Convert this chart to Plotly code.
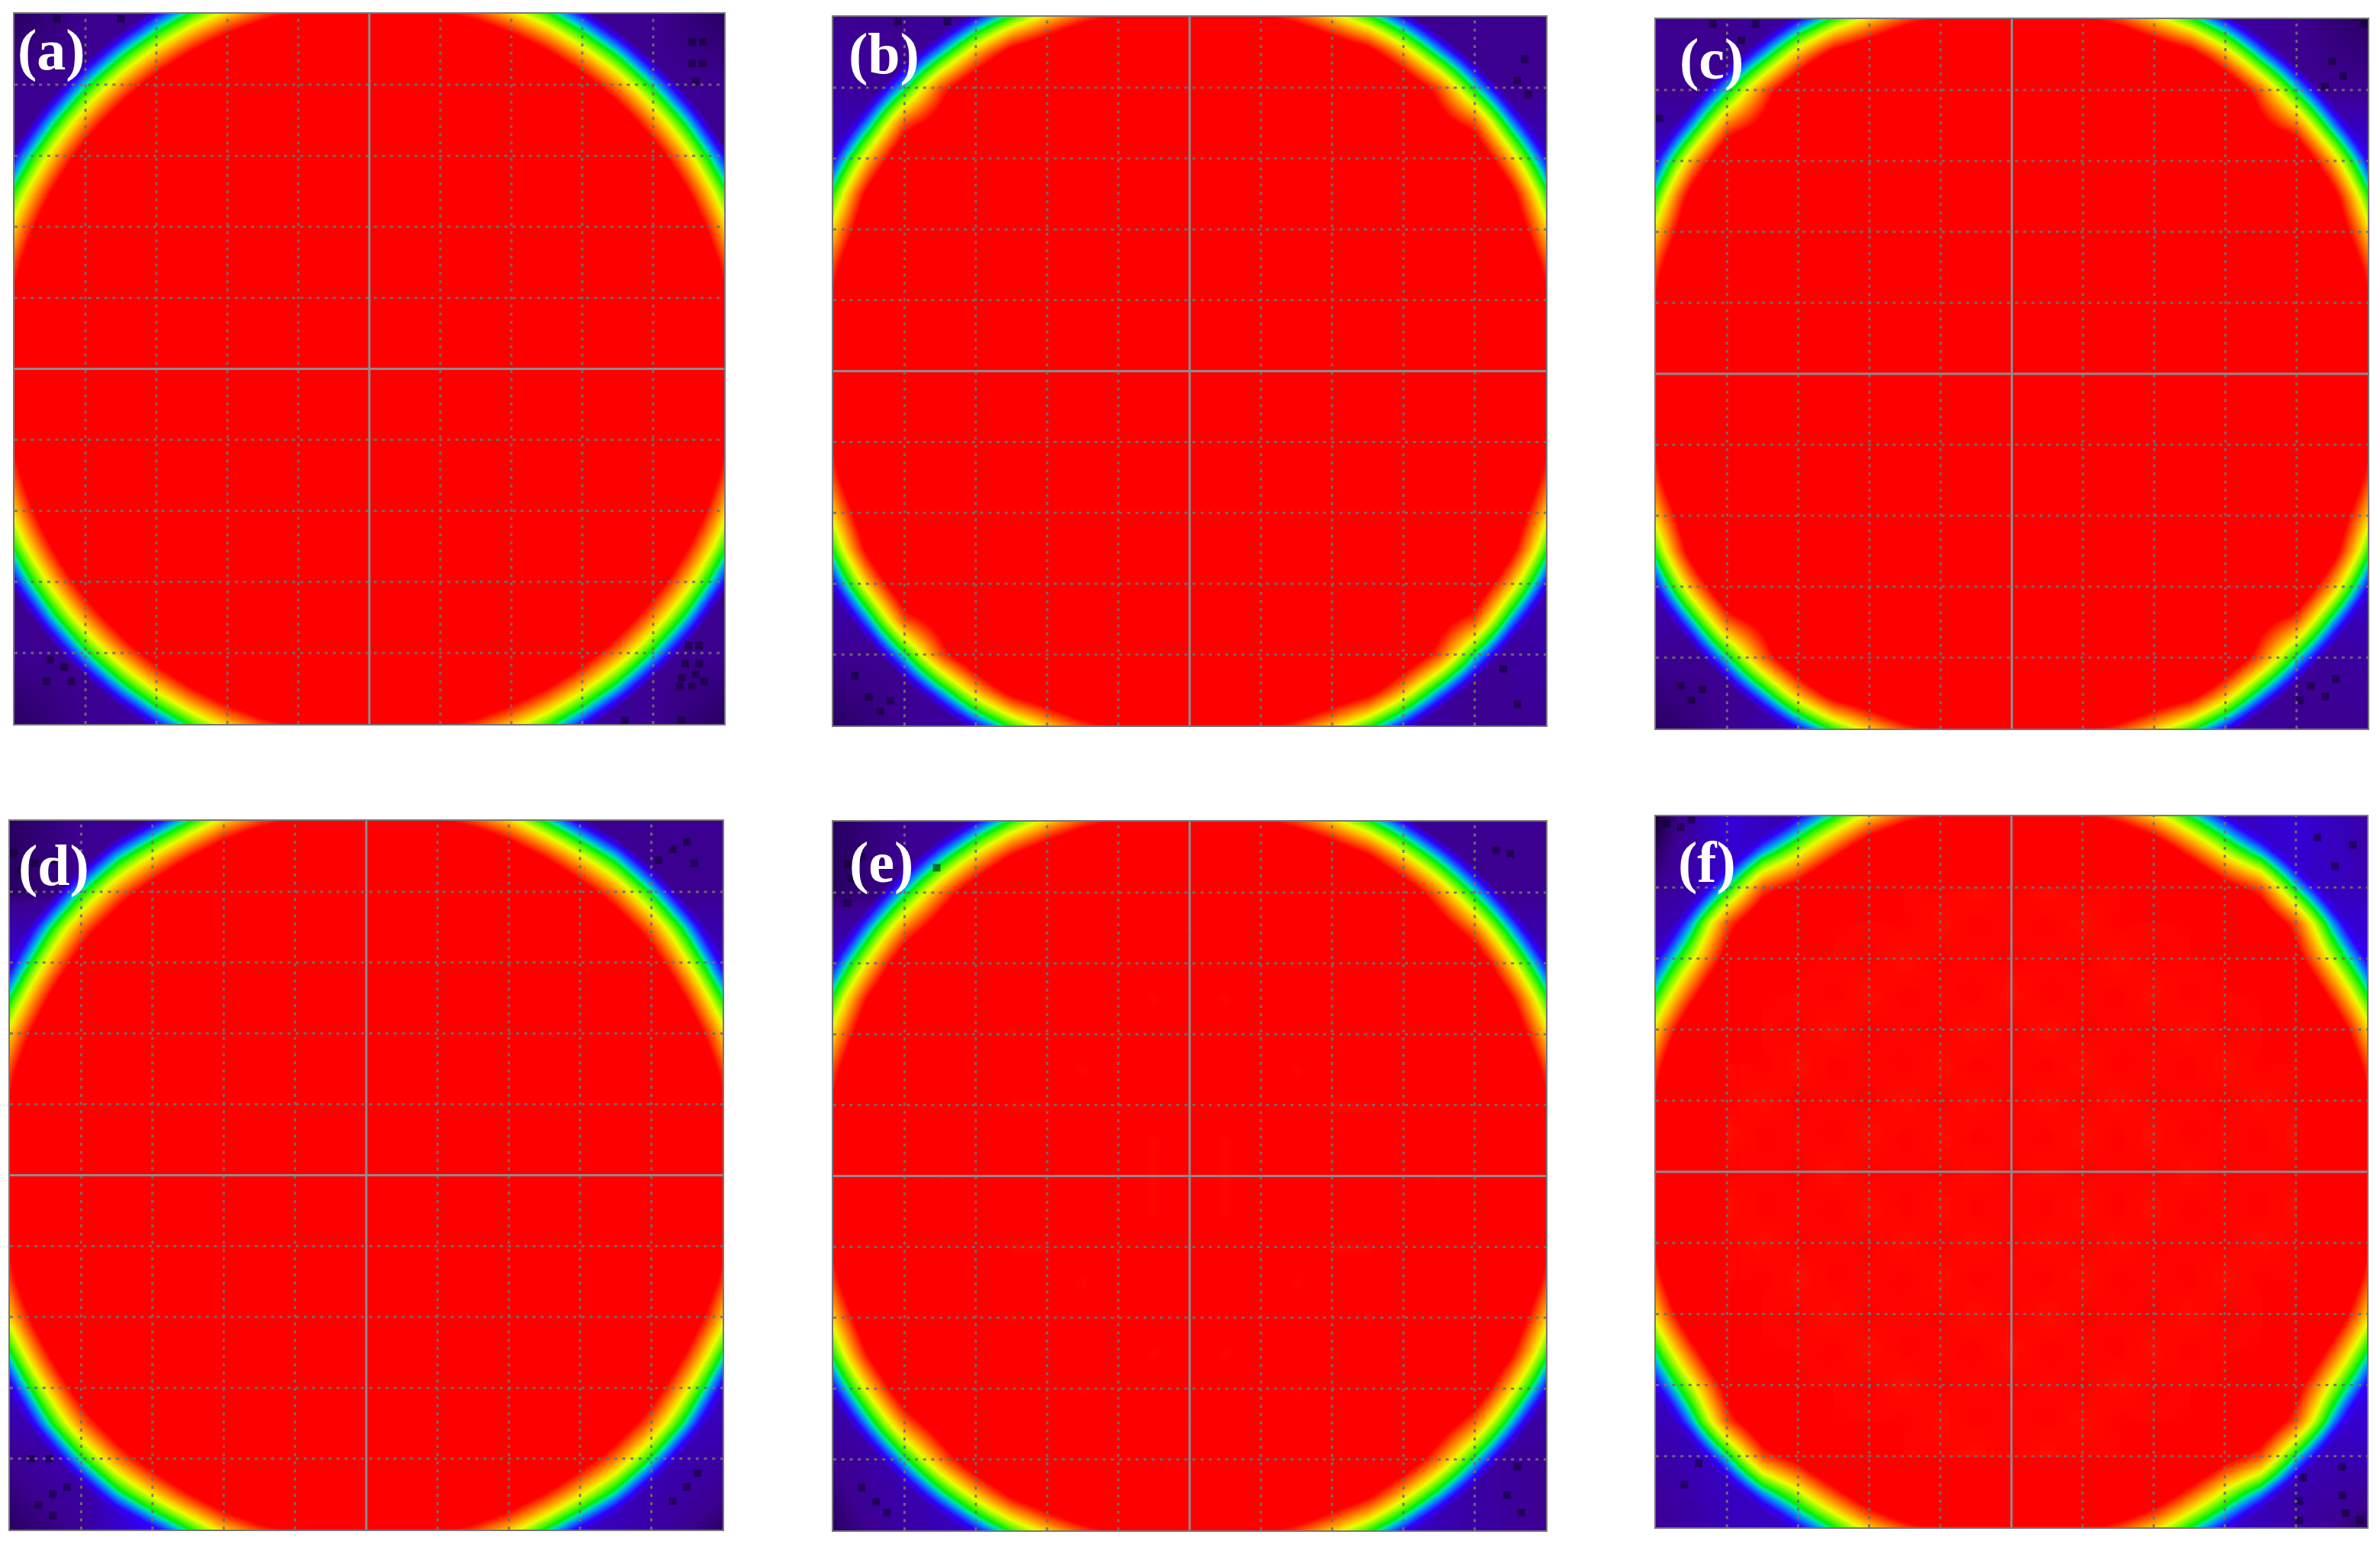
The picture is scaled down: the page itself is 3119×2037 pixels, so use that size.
import numpy as np
import plotly.graph_objects as go

W, H = 3119, 2037
panel_names = ["a", "b", "c", "d", "e", "f"]
panel_labels = ["(a)", "(b)", "(c)", "(d)", "(e)", "(f)"]
grid_ticks = [-4, -3, -2, -1, 1, 2, 3, 4]
centre_ticks = [0]
field_positions = [-5, -4.5, -4, -3.5, -3, -2.5, -2, -1.5, -1, -0.5, 0, 0.5, 1, 1.5, 2, 2.5, 3, 3.5, 4, 4.5, 5]
bg_positions = [-5, -4, -3, -2, -1, 0, 1, 2, 3, 4, 5]

# intensity, one quadrant, rows/cols from centre to panel edge
field_a = [
 [200,200,200,200,200,200,200,200,200,183,118],
 [200,200,200,200,200,200,200,200,200,179,115],
 [200,200,200,200,200,200,200,200,200,168,105],
 [200,200,200,200,200,200,200,200,200,151,90],
 [200,200,200,200,200,200,200,200,186,128,68],
 [200,200,200,200,200,200,200,200,155,99,42],
 [200,200,200,200,200,200,200,168,118,65,11],
 [200,200,200,200,200,200,168,124,77,28,-25],
 [200,200,200,200,186,155,118,77,33,-14,-64],
 [183,179,168,151,128,99,65,28,-14,-58,-90],
 [118,115,105,90,68,42,11,-25,-64,-90,-90]]
field_b = [
 [200,200,200,200,200,200,200,200,200,183,118],
 [200,200,200,200,200,200,200,200,200,179,115],
 [200,200,200,200,200,200,200,200,200,168,105],
 [200,200,200,200,200,200,200,200,200,151,90],
 [200,200,200,200,200,200,200,200,186,128,68],
 [200,200,200,200,200,200,200,200,165,110,42],
 [200,200,200,200,200,200,200,168,128,72,11],
 [200,200,200,200,200,200,168,112,88,28,-25],
 [200,200,200,200,186,165,128,88,34,-14,-64],
 [183,179,168,151,128,110,72,28,-14,-58,-90],
 [118,115,105,90,68,42,11,-25,-64,-90,-90]]
field_c = [
 [200,200,200,200,200,200,200,200,200,183,118],
 [200,200,200,200,200,200,200,200,200,179,115],
 [200,200,200,200,200,200,200,200,200,168,105],
 [200,200,200,200,200,200,200,200,200,151,90],
 [200,200,200,200,200,200,200,200,186,128,68],
 [200,200,200,200,200,200,200,200,168,112,42],
 [200,200,200,200,200,200,200,168,130,74,11],
 [200,200,200,200,200,200,168,108,84,28,-25],
 [200,200,200,200,186,168,130,84,33,-14,-64],
 [183,179,168,151,128,112,74,28,-14,-58,-90],
 [118,115,105,90,68,42,11,-25,-64,-90,-90]]
field_d = [
 [200,200,200,200,200,200,200,200,200,183,118],
 [200,200,200,200,200,200,200,200,200,179,115],
 [200,200,200,200,200,200,200,200,200,168,105],
 [200,200,200,200,200,200,200,200,200,151,90],
 [200,200,200,200,200,200,200,200,186,128,68],
 [200,200,200,200,200,200,200,200,155,97,37],
 [200,200,200,200,200,200,200,168,118,63,6],
 [200,200,200,200,200,200,168,124,80,29,-25],
 [200,200,200,200,186,155,118,80,35,-14,-64],
 [183,179,168,151,128,97,63,29,-14,-58,-90],
 [118,115,105,90,68,37,6,-25,-64,-90,-90]]
field_e = [
 [103,99,103,103,99,103,103,99,200,183,118],
 [103,99,103,103,103,103,103,103,200,179,115],
 [99,103,103,103,99,99,103,103,200,168,105],
 [103,103,103,99,103,103,103,103,200,151,90],
 [103,103,99,103,103,99,103,103,186,128,68],
 [103,99,103,103,99,103,103,200,155,104,42],
 [103,103,103,99,103,103,103,168,124,67,11],
 [99,103,103,103,103,103,168,118,80,28,-25],
 [200,200,200,200,186,155,124,80,33,-14,-64],
 [183,179,168,151,128,104,67,28,-14,-58,-90],
 [118,115,105,90,68,42,11,-25,-64,-90,-90]]
field_f = [
 [100,98,100,99,100,98,100,99,100,183,118],
 [99,100,98,100,98,100,99,100,98,179,115],
 [100,98,100,98,100,99,100,98,100,168,105],
 [99,100,98,100,99,100,98,100,99,151,90],
 [100,98,100,99,100,98,100,99,120,128,68],
 [98,100,99,100,98,100,99,100,145,92,38],
 [100,99,100,98,100,99,100,160,110,57,9],
 [99,100,98,100,99,100,160,128,88,28,-25],
 [100,98,100,99,120,145,110,88,33,-14,-64],
 [183,179,168,151,128,92,57,28,-14,-58,-90],
 [118,115,105,90,68,38,9,-25,-64,-90,-90]]

# background level behind the disc: 0 black, 3 indigo, 9 blue (rows from top to bottom)
bg_a = [[2,3,3,4,5,5,5,4,3,3,2],[3,3,3,4,5,5,5,4,3,3,3],[3,3,4,5,5,5,5,5,4,3,3],[4,5,5,5,5,5,5,5,5,4,4],[5,5,5,5,5,5,5,5,5,5,5],[5,5,5,5,5,5,5,5,5,5,5],[5,5,5,5,5,5,5,5,5,5,5],[4,5,5,5,5,5,5,5,5,4,4],[3,3,4,5,5,5,5,5,4,3,3],[3,3,4,5,5,5,5,5,4,3,3],[2,3,4,7,5,5,5,7,4,3,2]]
bg_b = [[3,3,4,6,5,5,5,5,3,3,3],[4,3,4,5,5,5,5,4,3,3,3],[6,4,4,5,5,5,5,5,4,4,6],[5,5,5,5,5,5,5,5,5,5,5],[5,5,5,5,5,5,5,5,5,5,5],[5,5,5,5,5,5,5,5,5,5,5],[5,5,5,5,5,5,5,5,5,5,5],[5,5,5,5,5,5,5,5,5,5,5],[5,4,4,5,5,5,5,5,4,4,5],[3,3,4,5,5,5,5,5,4,3,4],[2,3,4,6,5,5,5,6,4,3,3]]
bg_c = [[3,3,4,8,5,5,5,5,4,3,2],[3,3,4,5,5,5,5,5,4,3,3],[6,4,4,5,5,5,5,5,4,6,8],[5,5,5,5,5,5,5,5,5,5,7],[5,5,5,5,5,5,5,5,5,5,5],[5,5,5,5,5,5,5,5,5,5,5],[5,5,5,5,5,5,5,5,5,5,5],[5,5,5,5,5,5,5,5,5,5,7],[5,4,4,5,5,5,5,5,4,6,6],[3,3,4,5,5,5,5,5,4,3,4],[2,3,5,7,5,5,5,7,4,3,3]]
bg_d = [[2,3,3,7,5,5,5,6,3,3,3],[2,3,4,5,5,5,5,5,4,3,3],[7,6,5,5,5,5,5,5,5,6,6],[8,7,5,5,5,5,5,5,5,6,6],[5,5,5,5,5,5,5,5,5,5,5],[5,5,5,5,5,5,5,5,5,5,5],[5,5,5,5,5,5,5,5,5,5,5],[8,6,5,5,5,5,5,5,5,5,7],[6,6,6,5,5,5,5,5,5,6,6],[3,5,8,5,5,5,5,5,7,5,4],[2,3,9,8,5,5,5,7,6,4,2]]
bg_e = [[2,3,4,6,5,5,5,6,3,3,3],[2,3,3,5,5,5,5,5,4,3,3],[6,5,5,5,5,5,5,5,5,5,6],[7,6,5,5,5,5,5,5,5,6,7],[5,5,5,5,5,5,5,5,5,5,5],[5,5,5,5,5,5,5,5,5,5,5],[5,5,5,5,5,5,5,5,5,5,5],[6,5,5,5,5,5,5,5,5,5,7],[5,5,5,5,5,5,5,5,5,5,5],[3,5,5,5,5,5,5,5,5,4,3],[2,4,6,6,5,5,5,6,6,4,3]]
bg_f = [[1,7,4,9,5,5,5,7,5,7,4],[3,6,6,6,5,5,5,6,6,6,5],[6,6,6,5,5,5,5,5,6,7,8],[7,7,5,5,5,5,5,5,5,7,8],[5,5,5,5,5,5,5,5,5,5,5],[5,5,5,5,5,5,5,5,5,5,5],[5,5,5,5,5,5,5,5,5,5,5],[7,7,5,5,5,5,5,5,5,8,9],[6,6,6,5,5,5,5,5,6,7,8],[4,6,6,6,5,5,5,6,6,5,5],[3,5,6,7,5,5,5,7,6,4,2]]

# dark speckle clusters in the corners (x, y in panel units)
speck_a = [(4.5,-3.9),(4.65,-3.9),(4.45,-4.15),(4.65,-4.15),(4.4,-4.35),(4.6,-4.3),(4.37,-4.47),(4.55,-4.47),(4.72,-4.4),(4.55,4.6),(4.7,4.6),(4.55,4.3),(4.7,4.3),(4.6,4.05),(-4.5,-4.1),(-4.3,-4.2),(-4.55,-4.4),(-4.2,-4.4),(-4.4,4.93),(-3.5,4.93),(3.6,-4.95),(4.4,-4.95)]
speck_b = [(-4.34,-4.8),(-4.2,-4.65),(-4.5,-4.6),(4.7,4.4),(4.6,4.1),(4.75,3.9),(-4.1,4.93),(-3.4,4.93),(4.4,-4.2),(4.6,-4.7),(-4.7,-4.3)]
speck_c = [(4.5,4.4),(4.65,4.2),(4.4,4.05),(-4.5,-4.6),(-4.35,-4.45),(-4.65,-4.4),(4.2,-4.4),(4.4,-4.55),(4.05,-4.6),(4.55,-4.3),(-4.95,3.6),(-4.2,4.93),(-3.8,4.7),(-3.6,4.93),(4.95,4.93)]
speck_d = [(-4.85,4.3),(-4.65,4.4),(-4.4,4.45),(-4.95,4.55),(4.3,4.6),(4.5,4.7),(4.1,4.45),(4.6,4.4),(-4.4,-4.5),(-4.2,-4.4),(-4.6,-4.65),(-4.4,-4.8),(-4.7,-4.0),(-4.45,-4.0),(4.5,-4.4),(4.3,-4.6),(4.65,-4.2)]
speck_e = [(-4.8,4.4),(-4.6,4.5),(-4.75,4.2),(-4.4,4.25),(-4.8,3.85),(-3.55,4.35),(4.3,4.6),(4.5,4.55),(-4.4,-4.6),(-4.25,-4.75),(-4.6,-4.4),(4.6,-4.1),(4.45,-4.5),(4.65,-4.75)]
speck_f = [(-4.85,4.9),(-4.65,4.85),(-4.5,4.95),(4.65,-4.15),(4.65,-4.55),(4.7,-4.8),(4.05,-4.63),(4.05,-4.9),(4.1,-4.3),(4.9,-4.9),(4.8,4.6),(4.55,4.3),(4.3,4.7),(-4.6,-4.4),(-4.4,-4.1)]

fields = [field_a, field_b, field_c, field_d, field_e, field_f]
backgrounds = [bg_a, bg_b, bg_c, bg_d, bg_e, bg_f]
speckles = [speck_a, speck_b, speck_c, speck_d, speck_e, speck_f]

# panel frame in page pixels: left, right, top, bottom
frames = [(19,949,18,949),(1092,2026,22,951),(2170,3103,25,955),(13,947,1076,2005),(1092,2026,1077,2006),(2170,3102,1070,2002)]
# label centres in page pixels
label_xy = [(67,66),(1158,71),(2243,78),(70,1134),(1155,1130),(2237,1130)]

field_scale = [[0,"rgba(48,0,255,0)"],[0.12,"rgba(48,0,255,1)"],[0.25,"#0090ff"],[0.33,"#00e8a0"],[0.39,"#00f000"],[0.5,"#80f800"],[0.6,"#e8ff00"],[0.7,"#ffc000"],[0.8,"#ff8000"],[1,"#ff0000"]]
bg_scale = [[0,"#000000"],[0.33,"#3c0090"],[1,"#3000ff"]]

fig = go.Figure()
annotations = []
layout_axes = {}
for k, name in enumerate(panel_names):
    xn = "" if k == 0 else str(k + 1)
    l, r, t, b = frames[k]
    frame_line = dict(showline=True, mirror=True, linecolor="#77777c", linewidth=2, showgrid=False, zeroline=False, showticklabels=False, ticks="", range=[-5, 5], fixedrange=True)
    layout_axes["xaxis" + xn] = dict(domain=[l / W, r / W], anchor="y" + xn, **frame_line)
    layout_axes["yaxis" + xn] = dict(domain=[1 - b / H, 1 - t / H], anchor="x" + xn, **frame_line)
    xa, ya = "x" + xn, "y" + xn

    fig.add_trace(go.Heatmap(x=bg_positions, y=bg_positions[::-1], z=backgrounds[k], zmin=0, zmax=9, colorscale=bg_scale, zsmooth="best", showscale=False, hoverinfo="skip", xaxis=xa, yaxis=ya))
    q = np.array(fields[k])
    top = np.hstack([q[:, :0:-1], q])
    full = np.vstack([top[:0:-1], top])
    fig.add_trace(go.Heatmap(x=field_positions, y=field_positions, z=full.tolist(), zmin=0, zmax=100, colorscale=field_scale, zsmooth="best", showscale=False, hoverinfo="skip", xaxis=xa, yaxis=ya))
    sx = [p[0] for p in speckles[k]]
    sy = [p[1] for p in speckles[k]]
    fig.add_trace(go.Scatter(x=sx, y=sy, mode="markers", marker=dict(symbol="square", size=10, color="rgba(8,0,30,0.5)", line=dict(width=0)), hoverinfo="skip", showlegend=False, xaxis=xa, yaxis=ya))

    gx, gy = [], []
    for v in grid_ticks:
        gx += [v, v, None, -5, 5, None]
        gy += [-5, 5, None, v, v, None]
    fig.add_trace(go.Scatter(x=gx, y=gy, mode="lines", line=dict(color="rgba(112,112,112,0.9)", width=3, dash="4px,6.7px"), hoverinfo="skip", showlegend=False, xaxis=xa, yaxis=ya))
    cx, cy = [], []
    for v in centre_ticks:
        cx += [v, v, None, -5, 5, None]
        cy += [-5, 5, None, v, v, None]
    fig.add_trace(go.Scatter(x=cx, y=cy, mode="lines", line=dict(color="#8c8c8c", width=3), hoverinfo="skip", showlegend=False, xaxis=xa, yaxis=ya))

    lx, ly = label_xy[k]
    annotations.append(dict(text="<b>%s</b>" % panel_labels[k], x=lx / W, y=1 - ly / H, xref="paper", yref="paper", xanchor="center", yanchor="middle", showarrow=False, font=dict(family="Liberation Serif", size=76, color="white")))

fig.update_layout(width=W, height=H, margin=dict(l=0, r=0, t=0, b=0), paper_bgcolor="white", plot_bgcolor="white", showlegend=False, annotations=annotations, **layout_axes)
fig.write_html("out.html", post_script="document.body.style.margin='0';", config={"displayModeBar": False})
